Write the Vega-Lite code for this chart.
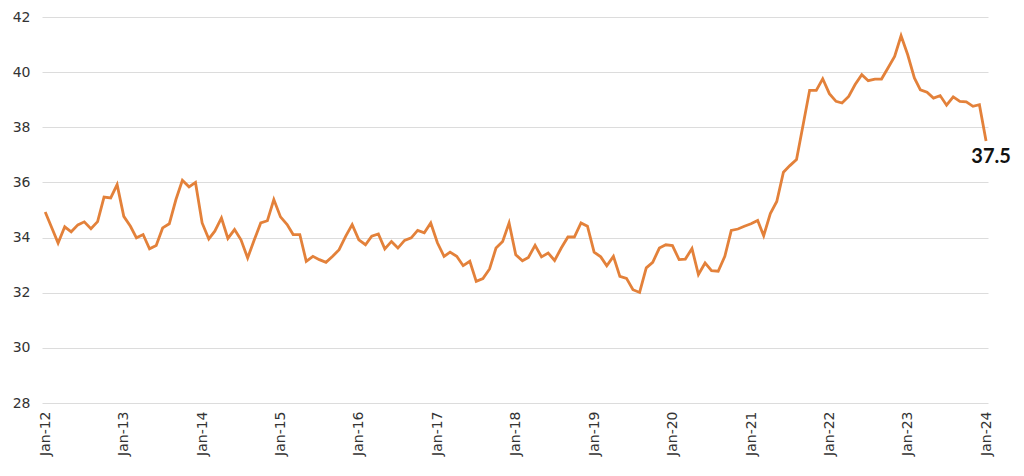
{
  "$schema": "https://vega.github.io/schema/vega-lite/v6.json",
  "width": 946,
  "height": 386,
  "autosize": "none",
  "padding": {"left": 42, "top": 17, "right": 36, "bottom": 73},
  "background": "white",
  "config": {"view": {"stroke": null}, "font": "DejaVu Sans"},
  "data": {"values": [
    {"date": "2012-01-01", "value": 34.93}, {"date": "2012-02-01", "value": 34.35}, {"date": "2012-03-01", "value": 33.8}, {"date": "2012-04-01", "value": 34.39}, {"date": "2012-05-01", "value": 34.21}, {"date": "2012-06-01", "value": 34.46}, {"date": "2012-07-01", "value": 34.57}, {"date": "2012-08-01", "value": 34.32}, {"date": "2012-09-01", "value": 34.58}, {"date": "2012-10-01", "value": 35.47}, {"date": "2012-11-01", "value": 35.44}, {"date": "2012-12-01", "value": 35.92},
    {"date": "2013-01-01", "value": 34.77}, {"date": "2013-02-01", "value": 34.41}, {"date": "2013-03-01", "value": 33.99}, {"date": "2013-04-01", "value": 34.11}, {"date": "2013-05-01", "value": 33.59}, {"date": "2013-06-01", "value": 33.71}, {"date": "2013-07-01", "value": 34.35}, {"date": "2013-08-01", "value": 34.5}, {"date": "2013-09-01", "value": 35.38}, {"date": "2013-10-01", "value": 36.08}, {"date": "2013-11-01", "value": 35.84}, {"date": "2013-12-01", "value": 36.0},
    {"date": "2014-01-01", "value": 34.53}, {"date": "2014-02-01", "value": 33.95}, {"date": "2014-03-01", "value": 34.23}, {"date": "2014-04-01", "value": 34.71}, {"date": "2014-05-01", "value": 33.97}, {"date": "2014-06-01", "value": 34.29}, {"date": "2014-07-01", "value": 33.92}, {"date": "2014-08-01", "value": 33.26}, {"date": "2014-09-01", "value": 33.92}, {"date": "2014-10-01", "value": 34.53}, {"date": "2014-11-01", "value": 34.61}, {"date": "2014-12-01", "value": 35.38},
    {"date": "2015-01-01", "value": 34.75}, {"date": "2015-02-01", "value": 34.47}, {"date": "2015-03-01", "value": 34.11}, {"date": "2015-04-01", "value": 34.11}, {"date": "2015-05-01", "value": 33.14}, {"date": "2015-06-01", "value": 33.32}, {"date": "2015-07-01", "value": 33.2}, {"date": "2015-08-01", "value": 33.1}, {"date": "2015-09-01", "value": 33.32}, {"date": "2015-10-01", "value": 33.56}, {"date": "2015-11-01", "value": 34.05}, {"date": "2015-12-01", "value": 34.47},
    {"date": "2016-01-01", "value": 33.92}, {"date": "2016-02-01", "value": 33.74}, {"date": "2016-03-01", "value": 34.05}, {"date": "2016-04-01", "value": 34.13}, {"date": "2016-05-01", "value": 33.59}, {"date": "2016-06-01", "value": 33.86}, {"date": "2016-07-01", "value": 33.62}, {"date": "2016-08-01", "value": 33.9}, {"date": "2016-09-01", "value": 33.99}, {"date": "2016-10-01", "value": 34.26}, {"date": "2016-11-01", "value": 34.17}, {"date": "2016-12-01", "value": 34.53},
    {"date": "2017-01-01", "value": 33.81}, {"date": "2017-02-01", "value": 33.32}, {"date": "2017-03-01", "value": 33.47}, {"date": "2017-04-01", "value": 33.32}, {"date": "2017-05-01", "value": 32.98}, {"date": "2017-06-01", "value": 33.14}, {"date": "2017-07-01", "value": 32.41}, {"date": "2017-08-01", "value": 32.51}, {"date": "2017-09-01", "value": 32.86}, {"date": "2017-10-01", "value": 33.62}, {"date": "2017-11-01", "value": 33.86}, {"date": "2017-12-01", "value": 34.53},
    {"date": "2018-01-01", "value": 33.38}, {"date": "2018-02-01", "value": 33.16}, {"date": "2018-03-01", "value": 33.28}, {"date": "2018-04-01", "value": 33.72}, {"date": "2018-05-01", "value": 33.3}, {"date": "2018-06-01", "value": 33.44}, {"date": "2018-07-01", "value": 33.17}, {"date": "2018-08-01", "value": 33.62}, {"date": "2018-09-01", "value": 34.02}, {"date": "2018-10-01", "value": 34.02}, {"date": "2018-11-01", "value": 34.53}, {"date": "2018-12-01", "value": 34.41},
    {"date": "2019-01-01", "value": 33.47}, {"date": "2019-02-01", "value": 33.3}, {"date": "2019-03-01", "value": 32.98}, {"date": "2019-04-01", "value": 33.32}, {"date": "2019-05-01", "value": 32.59}, {"date": "2019-06-01", "value": 32.52}, {"date": "2019-07-01", "value": 32.11}, {"date": "2019-08-01", "value": 32.01}, {"date": "2019-09-01", "value": 32.9}, {"date": "2019-10-01", "value": 33.1}, {"date": "2019-11-01", "value": 33.62}, {"date": "2019-12-01", "value": 33.74},
    {"date": "2020-01-01", "value": 33.71}, {"date": "2020-02-01", "value": 33.2}, {"date": "2020-03-01", "value": 33.22}, {"date": "2020-04-01", "value": 33.6}, {"date": "2020-05-01", "value": 32.66}, {"date": "2020-06-01", "value": 33.08}, {"date": "2020-07-01", "value": 32.8}, {"date": "2020-08-01", "value": 32.78}, {"date": "2020-09-01", "value": 33.32}, {"date": "2020-10-01", "value": 34.26}, {"date": "2020-11-01", "value": 34.31}, {"date": "2020-12-01", "value": 34.41},
    {"date": "2021-01-01", "value": 34.5}, {"date": "2021-02-01", "value": 34.62}, {"date": "2021-03-01", "value": 34.07}, {"date": "2021-04-01", "value": 34.87}, {"date": "2021-05-01", "value": 35.31}, {"date": "2021-06-01", "value": 36.37}, {"date": "2021-07-01", "value": 36.61}, {"date": "2021-08-01", "value": 36.83}, {"date": "2021-09-01", "value": 38.1}, {"date": "2021-10-01", "value": 39.34}, {"date": "2021-11-01", "value": 39.34}, {"date": "2021-12-01", "value": 39.76},
    {"date": "2022-01-01", "value": 39.22}, {"date": "2022-02-01", "value": 38.94}, {"date": "2022-03-01", "value": 38.88}, {"date": "2022-04-01", "value": 39.12}, {"date": "2022-05-01", "value": 39.55}, {"date": "2022-06-01", "value": 39.91}, {"date": "2022-07-01", "value": 39.69}, {"date": "2022-08-01", "value": 39.75}, {"date": "2022-09-01", "value": 39.75}, {"date": "2022-10-01", "value": 40.15}, {"date": "2022-11-01", "value": 40.57}, {"date": "2022-12-01", "value": 41.32},
    {"date": "2023-01-01", "value": 40.63}, {"date": "2023-02-01", "value": 39.79}, {"date": "2023-03-01", "value": 39.36}, {"date": "2023-04-01", "value": 39.27}, {"date": "2023-05-01", "value": 39.06}, {"date": "2023-06-01", "value": 39.15}, {"date": "2023-07-01", "value": 38.8}, {"date": "2023-08-01", "value": 39.1}, {"date": "2023-09-01", "value": 38.94}, {"date": "2023-10-01", "value": 38.92}, {"date": "2023-11-01", "value": 38.76}, {"date": "2023-12-01", "value": 38.82},
    {"date": "2024-01-01", "value": 37.5, "label": "37.5"}
  ]},
  "encoding": {
    "x": {
      "field": "date", "type": "temporal",
      "scale": {"type": "utc", "domain": [{"year": 2011, "month": 12, "date": 17, "utc": true}, {"year": 2024, "month": 1, "date": 10, "utc": true}]},
      "axis": {
        "title": null, "format": "%b-%y", "labelAngle": -90, "labelPadding": 8,
        "labelFontSize": 14, "labelColor": "#333333", "labelFont": "DejaVu Sans",
        "grid": false, "domain": false, "ticks": false, "labelOverlap": false, "labelBound": false, "labelFlush": false,
        "values": [
          {"year": 2012, "month": 1, "date": 1, "utc": true}, {"year": 2013, "month": 1, "date": 1, "utc": true}, {"year": 2014, "month": 1, "date": 1, "utc": true},
          {"year": 2015, "month": 1, "date": 1, "utc": true}, {"year": 2016, "month": 1, "date": 1, "utc": true}, {"year": 2017, "month": 1, "date": 1, "utc": true},
          {"year": 2018, "month": 1, "date": 1, "utc": true}, {"year": 2019, "month": 1, "date": 1, "utc": true}, {"year": 2020, "month": 1, "date": 1, "utc": true},
          {"year": 2021, "month": 1, "date": 1, "utc": true}, {"year": 2022, "month": 1, "date": 1, "utc": true}, {"year": 2023, "month": 1, "date": 1, "utc": true},
          {"year": 2024, "month": 1, "date": 1, "utc": true}
        ]
      }
    },
    "y": {
      "field": "value", "type": "quantitative",
      "scale": {"domain": [28, 42], "nice": false, "zero": false},
      "axis": {
        "title": null, "values": [28, 30, 32, 34, 36, 38, 40, 42],
        "labelFontSize": 14, "labelColor": "#333333", "labelFont": "DejaVu Sans", "labelPadding": 12,
        "domain": false, "ticks": false, "grid": true, "gridColor": "#dcdcdc", "gridWidth": 1
      }
    }
  },
  "layer": [
    {"mark": {"type": "line", "color": "#E3813A", "strokeWidth": 2.8, "strokeJoin": "miter", "clip": false}},
    {
      "transform": [{"filter": "datum.label != null"}],
      "mark": {"type": "text", "fontSize": 20, "fontWeight": "bold", "font": "Lato", "color": "#111111", "align": "center", "baseline": "middle", "dx": 5, "dy": 16},
      "encoding": {"text": {"field": "label"}}
    }
  ]
}
